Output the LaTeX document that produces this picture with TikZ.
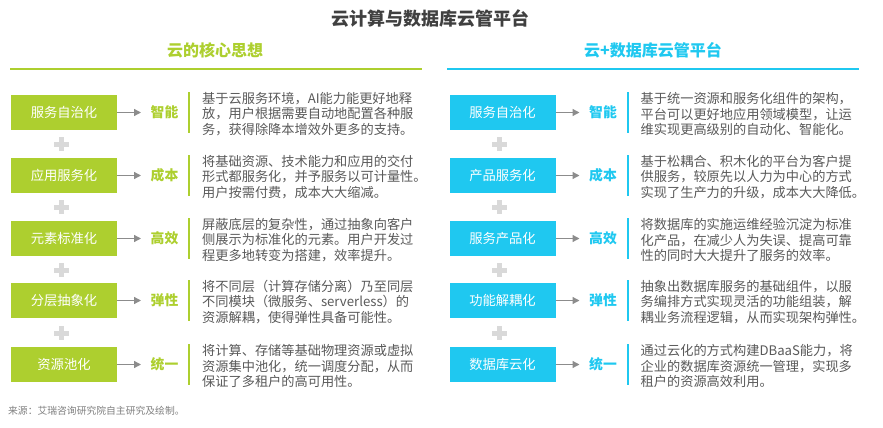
\documentclass[tikz,border=0pt]{standalone}
\usepackage{fontspec}
\setmainfont{Noto Sans CJK SC}
\usetikzlibrary{arrows.meta,calc}
\definecolor{cgreen}{HTML}{ADCF2F}
\definecolor{cblue}{HTML}{1FC8F0}
\definecolor{ctext}{HTML}{595959}
\definecolor{ctitle}{HTML}{404040}
\definecolor{cplus}{HTML}{D9D9D9}
\definecolor{carrow}{HTML}{8C8C8C}
\definecolor{cfoot}{HTML}{7F7F7F}
\tikzset{
  boxst/.style={minimum width=106pt, minimum height=35pt, inner sep=0pt, text=white, font=\fontsize{13.3}{15}\selectfont},
  labst/.style={inner sep=0pt, font=\fontsize{13.8}{15}\selectfont\bfseries},
  descst/.style={inner sep=0pt, anchor=west, align=left, text=ctext, font=\fontsize{13.2}{15.5}\selectfont},
  arrst/.style={draw=carrow, line width=1.3pt, -{Triangle[length=7pt,width=7pt]}, shorten >=9.5pt},
  barst/.style={line width=2pt},
}
\newcommand{\dbrow}[7]{%
  \node[boxst, fill=#2] (#1b) at (#3,#4) {#5};
  \node[labst, text=#2] (#1l) at ($(#1b.center)+(100.5,0)$) {#6};
  \draw[arrst] (#1b.east) -- (#1l.west);
  \coordinate (#1t) at ($(#1b.center)+(125,-20.5)$);
  \coordinate (#1u) at ($(#1b.center)+(125,20.5)$);
  \draw[barst, draw=#2] (#1t) -- (#1u);
  \node[descst] (#1d) at ($(#1b.center)+(138,1.5)$) {#7};
}
\newcommand{\plusmark}[2]{%
  \fill[cplus] ({#1-7.5},{#2-2.5}) rectangle ({#1+7.5},{#2+2.5});
  \fill[cplus] ({#1-2.5},{#2-7}) rectangle ({#1+2.5},{#2+7});
}
\begin{document}
\begin{tikzpicture}[x=1pt,y=-1pt]
\useasboundingbox (0,0) rectangle (883,428);
\node[text=ctitle, font=\fontsize{18}{20}\selectfont\bfseries] (title) at (430,19) {云计算与数据库云管平台};
\node[text=cgreen, font=\fontsize{16}{18}\selectfont\bfseries] (hl) at (215,50) {云的核心思想};
\node[text=cblue, font=\fontsize{16}{18}\selectfont\bfseries] (hr) at (653,50) {云+数据库云管平台};
\coordinate (hl1) at (10,69); \coordinate (hl2) at (422,69);
\coordinate (hr1) at (447,69); \coordinate (hr2) at (859,69);
\draw[cgreen, line width=2.4pt] (hl1) -- (hl2);
\draw[cblue, line width=2.4pt] (hr1) -- (hr2);

\dbrow{La}{cgreen}{64}{112.5}{服务自治化}{智能}{基于云服务环境，AI能力能更好地释\\放，用户根据需要自动地配置各种服\\务，获得除降本增效外更多的支持。}
\dbrow{Lb}{cgreen}{64}{175.5}{应用服务化}{成本}{将基础资源、技术能力和应用的交付\\形式都服务化，并予服务以可计量性。\\用户按需付费，成本大大缩减。}
\dbrow{Lc}{cgreen}{64}{238.5}{元素标准化}{高效}{屏蔽底层的复杂性，通过抽象向客户\\侧展示为标准化的元素。用户开发过\\程更多地转变为搭建，效率提升。}
\dbrow{Ld}{cgreen}{64}{300.5}{分层抽象化}{弹性}{将不同层（计算存储分离）乃至同层\\不同模块（微服务、serverless）的\\资源解耦，使得弹性具备可能性。}
\dbrow{Le}{cgreen}{64}{364.5}{资源池化}{统一}{将计算、存储等基础物理资源或虚拟\\资源集中池化，统一调度分配，从而\\保证了多租户的高可用性。}

\dbrow{Ra}{cblue}{502.5}{112.5}{服务自治化}{智能}{基于统一资源和服务化组件的架构，\\平台可以更好地应用领域模型，让运\\维实现更高级别的自动化、智能化。}
\dbrow{Rb}{cblue}{502.5}{175.5}{产品服务化}{成本}{基于松耦合、积木化的平台为客户提\\供服务，较原先以人力为中心的方式\\实现了生产力的升级，成本大大降低。}
\dbrow{Rc}{cblue}{502.5}{238.5}{服务产品化}{高效}{将数据库的实施运维经验沉淀为标准\\化产品，在减少人为失误、提高可靠\\性的同时大大提升了服务的效率。}
\dbrow{Rd}{cblue}{502.5}{300.5}{功能解耦化}{弹性}{抽象出数据库服务的基础组件，以服\\务编排方式实现灵活的功能组装，解\\耦业务流程逻辑，从而实现架构弹性。}
\dbrow{Re}{cblue}{502.5}{364.5}{数据库云化}{统一}{通过云化的方式构建DBaaS能力，将\\企业的数据库资源统一管理，实现多\\租户的资源高效利用。}

\foreach \py in {144,207,270,333}{
  \plusmark{61}{\py}
  \plusmark{499.5}{\py}
}
\node[anchor=west, inner sep=0pt, text=cfoot, font=\fontsize{9.8}{11}\selectfont] (foot) at (8,411) {来源：艾瑞咨询研究院自主研究及绘制。};
\end{tikzpicture}
\end{document}
